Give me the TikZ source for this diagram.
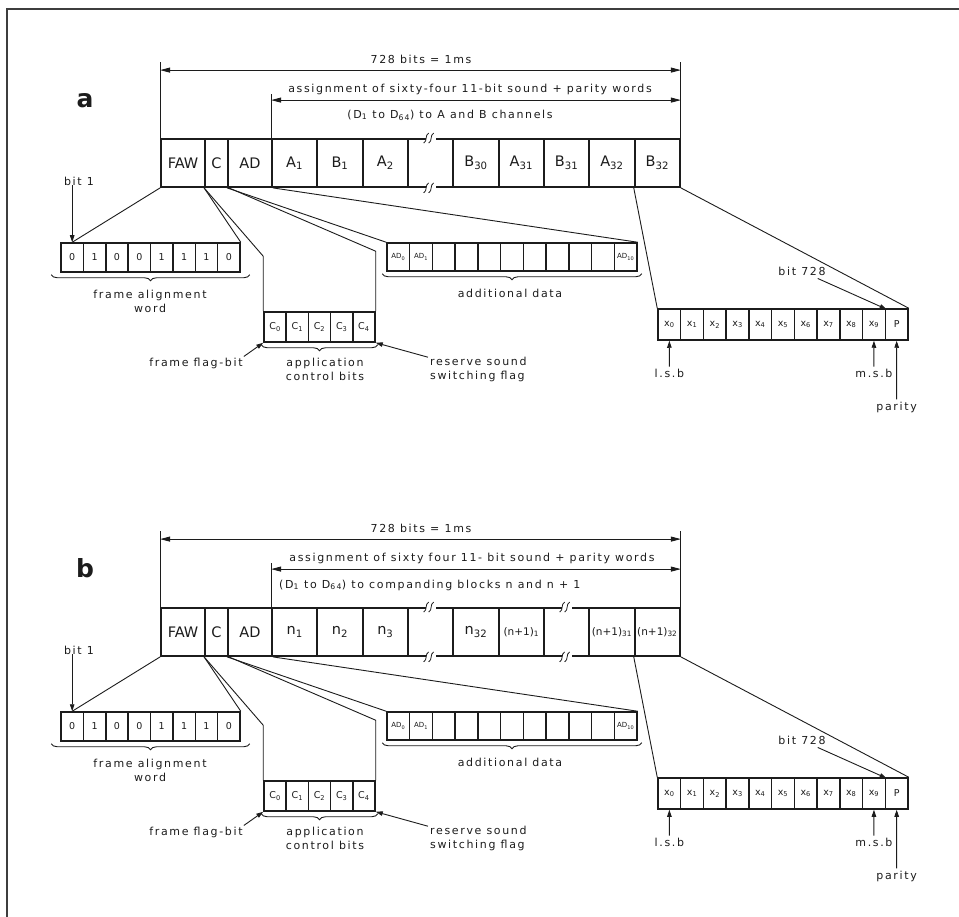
\documentclass[tikz,border=0pt]{standalone}
\usepackage{fontspec}
\setmainfont{DejaVu Sans}
\newfontfamily\lblfont[LetterSpace=15]{DejaVu Sans}
\usetikzlibrary{arrows.meta,decorations.pathreplacing,calc}
\definecolor{ink}{HTML}{1C1C1C}
\tikzset{
  lbl/.style={font=\lblfont\fontsize{11}{13.5}\selectfont, inner sep=0pt, text=ink, align=center},
  bigcell/.style={draw=ink, line width=1.8pt, minimum height=48pt, inner sep=0pt, font=\fontsize{14.5}{15}\selectfont, text=ink},
  smallcell/.style={draw=ink, line width=1.5pt, inner sep=0pt, font=\fontsize{9.5}{10}\selectfont, text=ink},
  adcell/.style={smallcell, font=\fontsize{7}{8}\selectfont},
  conn/.style={draw=ink, line width=0.9pt},
  arr/.style={conn, -{Triangle[length=7pt,width=4.5pt]}},
  dimarr/.style={conn, {Triangle[length=10pt,width=5pt]}-{Triangle[length=10pt,width=5pt]}},
  subbrace/.style={conn, decorate, decoration={brace, amplitude=6pt, mirror}},
  panelletter/.style={font=\fontsize{25}{25}\selectfont\bfseries, inner sep=0pt, text=ink, anchor=base},
  brkmark/.pic={
    \fill[white] (-5,-3) rectangle (5,3);
    \draw[ink, line width=0.8pt] (-7,5) .. controls (-3,3) and (-6,-3) .. (-2,-5);
    \draw[ink, line width=0.8pt] (-2,5) .. controls (2,3) and (-1,-3) .. (3,-5);
  },
}
\newcommand\drawpanel[2]{%
  % main row
  \node[bigcell, minimum width=44pt] (#1faw) at (183,163) {FAW};
  \node[bigcell, minimum width=23pt] (#1c) at (216.5,163) {C};
  \node[bigcell, minimum width=44pt] (#1ad) at (250,163) {AD};
  \foreach \lab [count=\k from 0] in {#2}
    \node[bigcell, minimum width=45.33pt] (#1d\k) at ({294.67+45.33*\k},163) {\lab};
  % dimension lines
  \draw[conn] (#1faw.north west) -- ++(0,-76);
  \draw[conn] (#1d8.north east) -- ++(0,-76);
  \draw[conn] (#1d0.north west) -- ++(0,-44);
  \draw[dimarr] ([yshift=68pt]#1faw.north west) -- ([yshift=68pt]#1d8.north east);
  \draw[dimarr] ([yshift=38pt]#1d0.north west) -- ([yshift=38pt]#1d8.north east);
  \node[lbl] (#1len) at (421,59) {728 bits = 1ms};
  % frame alignment word
  \foreach \v [count=\k] in {0,1,0,0,1,1,1,0}
    \node[smallcell, minimum width=22.375pt, minimum height=29pt] (#1fs\k) at ({61+22.375*(\k-0.5)},257.5) {\v};
  \draw[subbrace] ([xshift=-9pt,yshift=-2pt]#1fs1.south west) -- ([xshift=9pt,yshift=-2pt]#1fs8.south east);
  \node[lbl] (#1fawl) at (150,301.5) {frame alignment\\word};
  \node[lbl] (#1bitone) at (79,181) {bit 1};
  \draw[arr] (#1fs1.north |- #1bitone.south) -- (#1fs1.north);
  % additional data
  \foreach \v [count=\k] in {AD\textsubscript{0},AD\textsubscript{1},,,,,,,,,AD\textsubscript{10}}
    \node[adcell, minimum width=22.73pt, minimum height=28pt] (#1as\k) at ({387+22.73*(\k-0.5)},257) {\v};
  \draw[subbrace] ([xshift=-4pt,yshift=-2pt]#1as1.south west) -- ([xshift=4pt,yshift=-2pt]#1as11.south east);
  \node[lbl] (#1adl) at (510,293) {additional data};
  % control bits
  \foreach \k in {0,...,4}
    \node[smallcell, minimum width=22.2pt, minimum height=30pt] (#1cs\k) at ({264+22.2*(\k+0.5)},327) {C\textsubscript{\k}};
  \draw[subbrace] ([xshift=-2pt,yshift=-2pt]#1cs0.south west) -- ([xshift=2pt,yshift=-2pt]#1cs4.south east);
  \node[lbl] (#1cbl) at (325,369.5) {application\\control bits};
  \node[lbl] (#1ffb) at (196,363) {frame flag-bit};
  \node[lbl, align=left, anchor=west] (#1rsf) at (430,369.5) {reserve sound\\switching flag};
  \draw[arr] ([xshift=1pt,yshift=1pt]#1ffb.north east) -- (#1cs0.south west);
  \draw[arr] ([xshift=-2pt]#1rsf.north west) -- (#1cs4.south east);
  % sound word
  \foreach \k in {0,...,9}
    \node[smallcell, minimum width=22.73pt, minimum height=31pt] (#1xs\k) at ({658+22.73*(\k+0.5)},324.5) {x\textsubscript{\k}};
  \node[smallcell, minimum width=22.73pt, minimum height=31pt] (#1xp) at ({658+22.73*10.5},324.5) {P};
  \node[lbl] (#1bit) at (802,271) {bit 728};
  \draw[arr] ([xshift=-8pt,yshift=-3pt]#1bit.south east) -- ([xshift=2pt,yshift=-1pt]#1xp.north west);
  \node[lbl] (#1lsb) at (669.4,373) {l.s.b};
  \draw[arr] ([yshift=2pt]#1lsb.north) -- (#1xs0.south);
  \node[lbl] (#1msb) at (873.9,373) {m.s.b};
  \draw[arr] ([yshift=2pt]#1msb.north) -- (#1xs9.south);
  \node[lbl] (#1par) at (896.6,407) {parity};
  \draw[arr] ([yshift=2pt]#1par.north) -- (#1xp.south);
  % expansion connectors
  \draw[conn] (#1faw.south west) -- (#1fs1.north);
  \draw[conn] (#1c.south west) -- (#1fs8.north east);
  \draw[conn] (#1c.south west) -- ([yshift=55pt]#1cs0.north west) -- (#1cs0.north west);
  \draw[conn] (#1c.south east) -- ([yshift=60pt]#1cs4.north east) -- (#1cs4.north east);
  \draw[conn] (#1ad.south west) -- (#1as1.north west);
  \draw[conn] (#1ad.south east) -- (#1as11.north east);
  \draw[conn] (#1d8.south west) -- (#1xs0.north west);
  \draw[conn] (#1d8.south east) -- (#1xp.north east);
}
\begin{document}
\begin{tikzpicture}[x=1pt,y=-1pt]
\useasboundingbox (0,0) rectangle (959,917);
\fill[white] (0,0) rectangle (959,917);
\draw[ink!85, line width=2pt] (7,917) -- (7,9) -- (959,9);
% panel a
\begin{scope}
  \drawpanel{a}{A\textsubscript{1},B\textsubscript{1},A\textsubscript{2},,B\textsubscript{30},A\textsubscript{31},B\textsubscript{31},A\textsubscript{32},B\textsubscript{32}}
  \node[lbl] (ata) at (470,89) {assignment of sixty-four 11-bit sound + parity words};
  \node[lbl] (atd) at (450,115) {(D\textsubscript{1} to D\textsubscript{64}) to A and B channels};
  \node[panelletter] (ala) at (85,108) {a};
  \pic at (ad3.north) {brkmark};
  \pic at (ad3.south) {brkmark};
\end{scope}
% panel b
\begin{scope}[shift={(0,469)}]
  \drawpanel{b}{n\textsubscript{1},n\textsubscript{2},n\textsubscript{3},,n\textsubscript{32},{\fontsize{10.5}{12}\selectfont(n+1)\textsubscript{1}},,{\fontsize{10.5}{12}\selectfont(n+1)\textsubscript{31}},{\fontsize{10.5}{12}\selectfont(n+1)\textsubscript{32}}}
  \node[lbl] (bta) at (472,89) {assignment of sixty four 11- bit sound + parity words};
  \node[lbl, anchor=west] (btd) at (279,116) {(D\textsubscript{1} to D\textsubscript{64}) to companding blocks n and n + 1};
  \node[panelletter] (blb) at (85,108) {b};
  \pic at (bd3.north) {brkmark};
  \pic at (bd3.south) {brkmark};
  \pic at (bd6.north) {brkmark};
  \pic at (bd6.south) {brkmark};
\end{scope}
\end{tikzpicture}
\end{document}
